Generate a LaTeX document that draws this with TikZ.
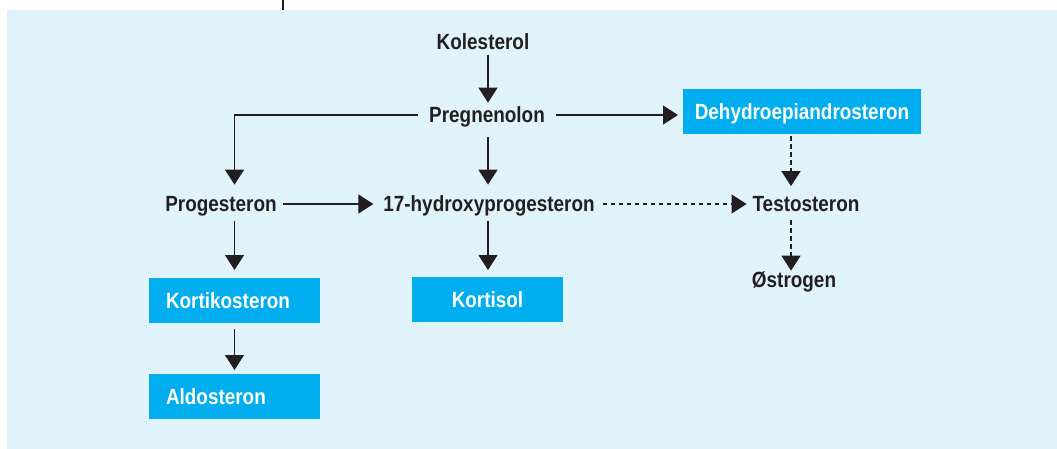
\documentclass[tikz,border=0pt]{standalone}
\usepackage{fontspec}
\setmainfont{Liberation Sans}[FakeStretch=0.86]
\usetikzlibrary{arrows.meta}
\definecolor{bgblue}{HTML}{E0F3FB}
\definecolor{boxblue}{HTML}{00AEEF}
\definecolor{ink}{HTML}{231F20}
\tikzset{
  lbl/.style={inner sep=0pt, outer sep=0pt, text height=15.7pt, text depth=0pt, text=ink,
    font=\fontsize{22}{26}\selectfont\bfseries},
  bx/.style={fill=boxblue, inner sep=0pt, outer sep=0pt, text height=15.7pt, text depth=0pt,
    text=white, font=\fontsize{22}{26}\selectfont\bfseries, minimum height=45pt},
  arr/.style={draw=ink, line width=1.3pt, -{Triangle[width=19pt,length=15pt]}},
  darr/.style={arr, dash pattern=on 4.5pt off 3.5pt},
}
\begin{document}
\begin{tikzpicture}[x=1pt,y=-1pt]
\useasboundingbox (0,0) rectangle (1057,449);
\fill[bgblue] (7,10) rectangle (1057,449);
\draw[ink, line width=1.2pt] (283,0) -- (283,10);

\coordinate (cx) at (488,0);
\coordinate (tx) at (791,0);

\node[lbl] (kol) at (483,42) {Kolesterol};
\node[lbl] (preg) at (487,115) {Pregnenolon};
\node[bx, minimum width=238pt] (dhea) at (802,111.5) {Dehydroepiandrosteron};
\node[lbl] (prog) at (221,204) {Progesteron};
\node[lbl] (oh) at (489,204) {17-hydroxyprogesteron};
\node[lbl] (tes) at (806,204) {Testosteron};
\node[lbl] (ost) at (794,280) {Østrogen};
\node[bx, minimum width=171pt, text width=137pt, align=left, inner xsep=17pt] (kort) at (234.5,300.5) {Kortikosteron};
\node[bx, minimum width=171pt, text width=137pt, align=left, inner xsep=17pt] (ald) at (234.5,396.5) {Aldosteron};
\node[bx, minimum width=151pt] (kortisol) at (487.5,299.5) {Kortisol};

\draw[arr, shorten <=5.5pt, shorten >=4.5pt] (kol.south -| cx) -- (preg.north -| cx);
\draw[arr, shorten <=11.5pt, shorten >=5pt] (preg.east) -- (dhea.west |- preg.east);
\draw[arr, shorten <=11pt, shorten >=11.5pt] (preg.west) -| (kort.north |- prog.north);
\draw[arr, shorten <=14pt, shorten >=11.5pt] (preg.south -| cx) -- (oh.north -| cx);
\draw[arr, shorten <=6.5pt, shorten >=10pt] (prog.east) -- (oh.west);
\draw[darr, shorten <=8pt, shorten >=6pt] (oh.east) -- (tes.west);
\draw[darr, shorten <=2.5pt, shorten >=10pt] (dhea.south -| tx) -- (tes.north -| tx);
\draw[darr, shorten <=8.5pt, shorten >=1.5pt] (tes.south -| tx) -- (ost.north -| tx);
\draw[arr, shorten <=9.5pt, shorten >=8pt] (prog.south -| kort.north) -- (kort.north);
\draw[arr, shorten <=6pt, shorten >=4pt] (kort.south) -- (ald.north);
\draw[arr, shorten <=9.5pt, shorten >=7pt] (oh.south -| cx) -- (kortisol.north -| cx);
\end{tikzpicture}
\end{document}
